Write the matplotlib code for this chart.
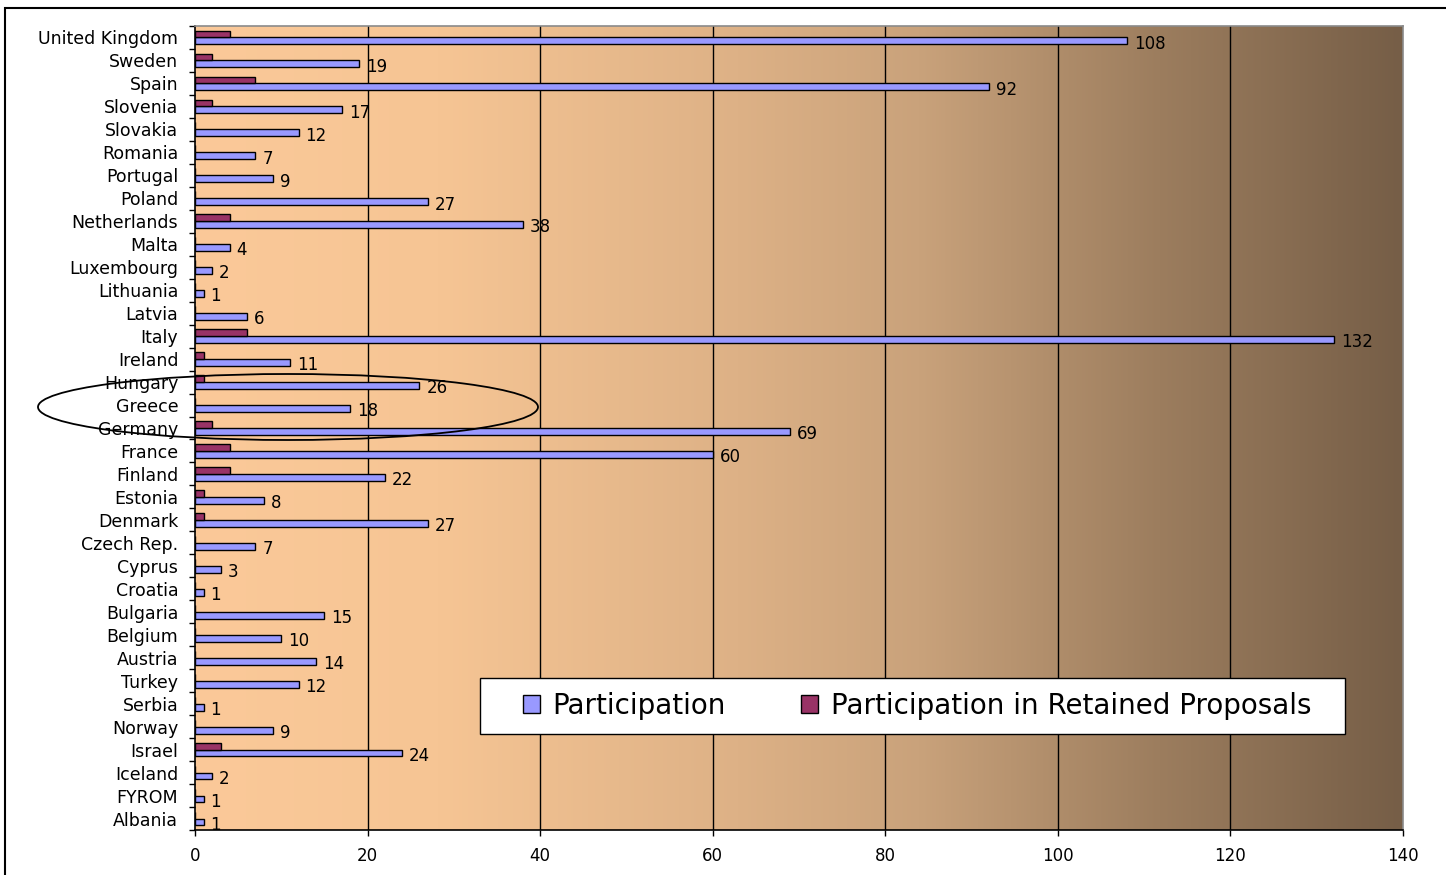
import numpy as np
import matplotlib
matplotlib.use("Agg")
import matplotlib.pyplot as plt
from matplotlib.colors import LinearSegmentedColormap
from matplotlib.patches import Ellipse, Rectangle
from matplotlib.transforms import IdentityTransform

countries = ["United Kingdom", "Sweden", "Spain", "Slovenia", "Slovakia", "Romania",
             "Portugal", "Poland", "Netherlands", "Malta", "Luxembourg", "Lithuania",
             "Latvia", "Italy", "Ireland", "Hungary", "Greece", "Germany", "France",
             "Finland", "Estonia", "Denmark", "Czech Rep.", "Cyprus", "Croatia",
             "Bulgaria", "Belgium", "Austria", "Turkey", "Serbia", "Norway", "Israel",
             "Iceland", "FYROM", "Albania"]
participation = [108, 19, 92, 17, 12, 7, 9, 27, 38, 4, 2, 1, 6, 132, 11, 26, 18, 69, 60,
                 22, 8, 27, 7, 3, 1, 15, 10, 14, 12, 1, 9, 24, 2, 1, 1]
retained = [4, 2, 7, 2, 0, 0, 0, 0, 4, 0, 0, 0, 0, 6, 1, 1, 0, 2, 4, 4, 1, 1, 0, 0, 0,
            0, 0, 0, 0, 0, 0, 3, 0, 0, 0]
xticks = [0, 20, 40, 60, 80, 100, 120, 140]
series_names = ["Participation", "Participation in Retained Proposals"]

plt.rcParams['font.family'] = ['DejaVu Sans']

W, H = 1446, 875
fig = plt.figure(figsize=(W / 100, H / 100), dpi=100)
fig.patch.set_facecolor('white')
ax = fig.add_axes([195 / W, (H - 830) / H, (1403 - 195) / W, (830 - 26) / H])

# gradient background
cmap = LinearSegmentedColormap.from_list("bg", [
    (0.0, "#FBC999"), (0.2, "#F6C594"), (0.45, "#DDB186"),
    (0.6, "#C9A27B"), (0.8, "#9C7D5E"), (1.0, "#765E47")])
grad = np.linspace(0, 1, 512).reshape(1, -1)
ax.imshow(grad, extent=[0, 1, 0, 1], transform=ax.transAxes, aspect='auto',
          cmap=cmap, zorder=0, interpolation='bicubic')

n = len(countries)
y = np.arange(n)[::-1]
bh = 0.3
ax.barh(y - bh / 2, participation, height=bh, color="#9999FF", edgecolor="black",
        linewidth=1, zorder=3, label=series_names[0])
ax.barh(y + bh / 2, retained, height=bh, color="#993366", edgecolor="black",
        linewidth=1, zorder=3, label=series_names[1])

for yi, v in zip(y, participation):
    ax.annotate(str(v), xy=(v, yi - bh / 2), xytext=(5, -2), textcoords='offset points',
                ha='left', va='center', fontsize=12, zorder=4)

ax.set_xlim(0, 140)
ax.set_ylim(-0.5, n - 0.5)
ax.set_xticks(xticks)
ax.set_xticklabels([str(t) for t in xticks], fontsize=12)
ax.set_yticks(y)
ax.set_yticklabels(countries, fontsize=12.5)
ax.set_yticks(np.arange(-0.5, n, 1.0), minor=True)
ax.tick_params(axis='y', which='major', length=0, pad=12)
ax.tick_params(axis='y', which='minor', length=4, width=1, direction='out', color='black')
ax.tick_params(axis='x', which='major', length=4, width=1, direction='out', pad=8)

for xv in xticks[1:-1]:
    ax.axvline(xv, color='black', linewidth=1, zorder=1)

ax.spines['left'].set_color('black')
ax.spines['bottom'].set_color('black')
ax.spines['top'].set_color('#8a8a8a')
ax.spines['right'].set_color('#8a8a8a')
for s in ax.spines.values():
    s.set_linewidth(1.2)
    s.set_zorder(5)

# legend box (pixel coordinates) and frameless legend on top
fig.add_artist(Rectangle((480, H - 734), 865, 56, facecolor='white', edgecolor='black',
                         linewidth=1, transform=IdentityTransform(), clip_on=False,
                         zorder=4))
leg = fig.legend(loc='center', bbox_to_anchor=(917 / W, (H - 706) / H), ncol=2,
                 fontsize=20, frameon=False, handlelength=0.6, handleheight=0.6,
                 columnspacing=2.7, handletextpad=0.47, borderpad=0, borderaxespad=0)
leg.set_zorder(6)

# ellipse annotation (in pixel coordinates)
ell = Ellipse((288, H - 407), 500, 66, fill=False, edgecolor='black', linewidth=1.3,
              transform=IdentityTransform(), clip_on=False, zorder=10)
fig.add_artist(ell)

# figure border
fig.add_artist(Rectangle((5, -5), W + 10, H - 8 + 5, fill=False, edgecolor='black',
                         linewidth=1.5, transform=IdentityTransform(), clip_on=False))

fig.savefig("out.png", dpi=100)
